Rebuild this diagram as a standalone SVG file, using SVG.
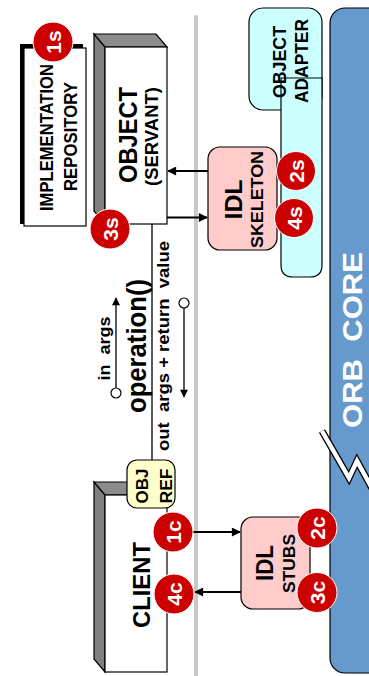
<svg xmlns="http://www.w3.org/2000/svg" width="369" height="676" viewBox="0 0 369 676">
<style>
.t{font-family:"Liberation Sans",Arial,sans-serif;font-weight:bold;text-anchor:middle;fill:#000}
.w{fill:#fff}
.box{fill:#fff;stroke:#000;stroke-width:1.2}
.side{fill:#808080;stroke:#000;stroke-width:1.2}
.top{fill:#8c8c8c;stroke:#000;stroke-width:1.2}
.pink{fill:#FFCCCC;stroke:#000;stroke-width:1.2}
.cyan{fill:#CCFFFF;stroke:#000;stroke-width:1.2}
.badge{fill:#CC0000;stroke:#fff;stroke-width:1}
.ln{stroke:#000;stroke-width:2;fill:none}
.thin{stroke:#000;stroke-width:1.3;fill:none}
.dot{fill:#fff;stroke:#000;stroke-width:1.2}
</style>
<defs>
<marker id="ah" viewBox="0 0 10 10" refX="9" refY="5" markerWidth="11" markerHeight="9" markerUnits="userSpaceOnUse" orient="auto"><path d="M0,0 L10,5 L0,10 z" fill="#000"/></marker>
<marker id="as" viewBox="0 0 10 10" refX="9" refY="5" markerWidth="10" markerHeight="8" markerUnits="userSpaceOnUse" orient="auto"><path d="M0,0 L10,5 L0,10 z" fill="#000"/></marker>
</defs>

<g id="orb-core">
<rect x="330" y="8" width="70" height="665" rx="15" fill="#6699CC" stroke="#000" stroke-width="1.2"/>
<polyline points="322,431 349,478 357,461 374,492" fill="none" stroke="#000" stroke-width="7" stroke-linejoin="miter"/>
<polyline points="322,431 349,478 357,461 374,492" fill="none" stroke="#fff" stroke-width="4.5" stroke-linejoin="miter"/>
<text class="t w" transform="translate(362,340) rotate(-90)" font-size="28" textLength="176" lengthAdjust="spacingAndGlyphs" xml:space="preserve">ORB  CORE</text>
</g>

<g id="object-adapter">
<rect class="cyan" x="249" y="8" width="73" height="102" rx="14"/>
<path class="cyan" d="M281,78 L322,78 L322,265 Q322,277 310,277 L293,277 Q281,277 281,265 Z"/>
<text class="t" transform="translate(286,62) rotate(-90)" font-size="18" textLength="72" lengthAdjust="spacingAndGlyphs">OBJECT</text>
<text class="t" transform="translate(308,61) rotate(-90)" font-size="18" textLength="84" lengthAdjust="spacingAndGlyphs">ADAPTER</text>
</g>

<g id="divider">
<line x1="196" y1="17" x2="196" y2="680" stroke="#C8C8C8" stroke-width="4" stroke-linecap="round"/>
</g>

<g id="implementation-repository">
<rect x="20" y="44" width="63" height="180" fill="#000"/>
<rect class="box" x="24" y="48" width="62" height="178"/>
<text class="t" transform="translate(53,137.5) rotate(-90)" font-size="18" textLength="147" lengthAdjust="spacingAndGlyphs">IMPLEMENTATION</text>
<text class="t" transform="translate(77,136.5) rotate(-90)" font-size="18" textLength="109" lengthAdjust="spacingAndGlyphs">REPOSITORY</text>
</g>

<g id="object-servant">
<polygon class="side" points="94,34 105,47 105,224 94,211"/>
<polygon class="top" points="94,34 156,34 167,47 105,47"/>
<rect class="box" x="105" y="47" width="62" height="177"/>
<text class="t" transform="translate(137,135) rotate(-90)" font-size="26" textLength="96" lengthAdjust="spacingAndGlyphs">OBJECT</text>
<text class="t" transform="translate(157.5,136.5) rotate(-90)" font-size="18" textLength="99" lengthAdjust="spacingAndGlyphs">(SERVANT)</text>
</g>

<g id="idl-skeleton">
<rect class="pink" x="208" y="147" width="69" height="103" rx="12"/>
<text class="t" transform="translate(242,199.5) rotate(-90)" font-size="24" textLength="40" lengthAdjust="spacingAndGlyphs">IDL</text>
<text class="t" transform="translate(263,199.5) rotate(-90)" font-size="16" textLength="97" lengthAdjust="spacingAndGlyphs">SKELETON</text>
</g>

<g id="client">
<polygon class="side" points="94,482 105,495 105,672 94,659"/>
<polygon class="top" points="94,482 156,482 167,495 105,495"/>
<rect class="box" x="105" y="495" width="62" height="177"/>
<text class="t" transform="translate(150,585) rotate(-90)" font-size="24" textLength="86" lengthAdjust="spacingAndGlyphs">CLIENT</text>
</g>

<g id="idl-stubs">
<rect class="pink" x="241" y="517" width="69" height="92" rx="12"/>
<text class="t" transform="translate(273,563) rotate(-90)" font-size="23" textLength="36" lengthAdjust="spacingAndGlyphs">IDL</text>
<text class="t" transform="translate(295,563.5) rotate(-90)" font-size="16" textLength="59" lengthAdjust="spacingAndGlyphs">STUBS</text>
</g>

<g id="connectors">
<line class="ln" x1="208" y1="171" x2="168" y2="171" marker-end="url(#ah)"/>
<line class="ln" x1="167" y1="217.5" x2="207" y2="217.5" marker-end="url(#ah)"/>
<line class="ln" x1="190" y1="532" x2="240" y2="532" marker-end="url(#ah)"/>
<line class="ln" x1="241" y1="592" x2="195" y2="592" marker-end="url(#ah)"/>
<line x1="152" y1="224" x2="152" y2="461" stroke="#000" stroke-width="1.3"/>
<line class="thin" x1="116" y1="388" x2="116" y2="298" marker-end="url(#as)"/>
<circle class="dot" cx="116" cy="393" r="5"/>
<line class="thin" x1="184" y1="308" x2="184" y2="397" marker-end="url(#as)"/>
<circle class="dot" cx="184" cy="303" r="5"/>
</g>

<g id="operation-labels">
<text class="t" transform="translate(110,348.5) rotate(-90)" font-size="17" textLength="64" lengthAdjust="spacingAndGlyphs" xml:space="preserve">in  args</text>
<text class="t" transform="translate(145.5,346) rotate(-90)" font-size="27" textLength="134" lengthAdjust="spacingAndGlyphs">operation()</text>
<text class="t" transform="translate(168.5,346) rotate(-90)" font-size="17" textLength="210" lengthAdjust="spacingAndGlyphs" xml:space="preserve">out  args + return  value</text>
</g>

<g id="obj-ref">
<rect x="127" y="460" width="48" height="48" rx="10" fill="#FFFFCC" stroke="#000" stroke-width="1.2"/>
<text class="t" transform="translate(148,486) rotate(-90)" font-size="17" textLength="35" lengthAdjust="spacingAndGlyphs">OBJ</text>
<text class="t" transform="translate(172,486) rotate(-90)" font-size="17" textLength="35" lengthAdjust="spacingAndGlyphs">REF</text>
</g>

<g id="badge-1s"><circle class="badge" cx="53" cy="42" r="20"/><text class="t w" transform="translate(60.5,42) rotate(-90)" font-size="21">1s</text></g>
<g id="badge-3s"><circle class="badge" cx="110" cy="229" r="20"/><text class="t w" transform="translate(117.5,229) rotate(-90)" font-size="21">3s</text></g>
<g id="badge-2s"><circle class="badge" cx="296" cy="171" r="19.5"/><text class="t w" transform="translate(303.5,171) rotate(-90)" font-size="21">2s</text></g>
<g id="badge-4s"><circle class="badge" cx="294" cy="218" r="19.5"/><text class="t w" transform="translate(301.5,218) rotate(-90)" font-size="21">4s</text></g>
<g id="badge-1c"><circle class="badge" cx="173" cy="532" r="20"/><text class="t w" transform="translate(180.5,532) rotate(-90)" font-size="21">1c</text></g>
<g id="badge-4c"><circle class="badge" cx="174" cy="594" r="20"/><text class="t w" transform="translate(181.5,594) rotate(-90)" font-size="21">4c</text></g>
<g id="badge-2c"><circle class="badge" cx="317" cy="528" r="20"/><text class="t w" transform="translate(324.5,528) rotate(-90)" font-size="21">2c</text></g>
<g id="badge-3c"><circle class="badge" cx="317" cy="592.5" r="20"/><text class="t w" transform="translate(324.5,592.5) rotate(-90)" font-size="21">3c</text></g>
</svg>
